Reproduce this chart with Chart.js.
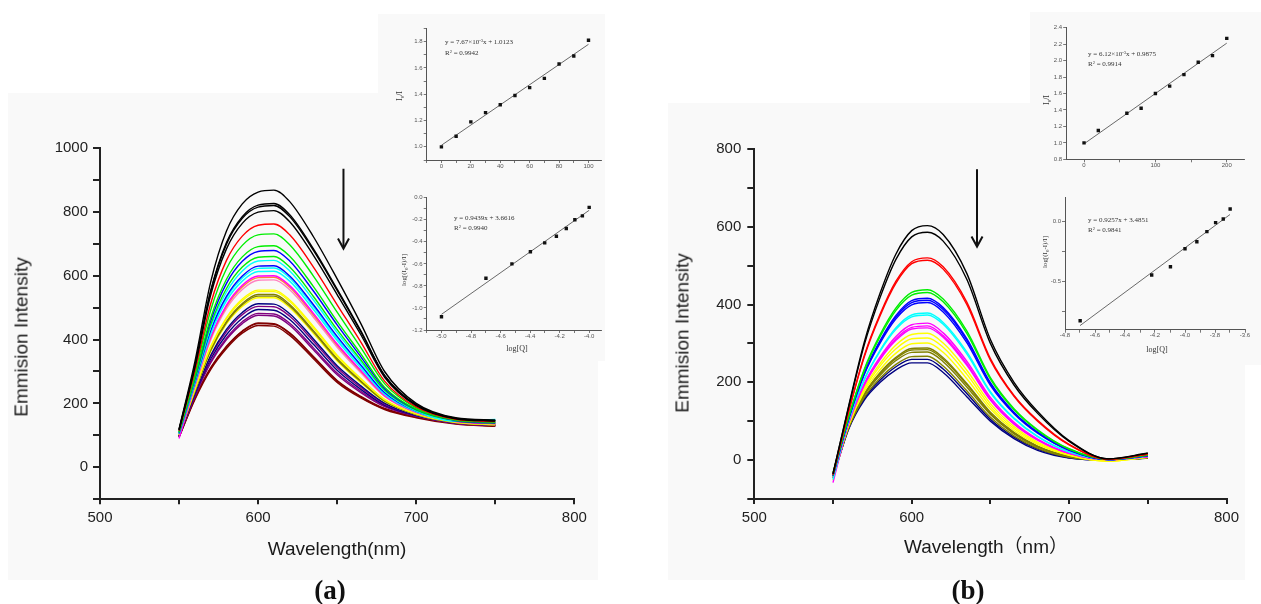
<!DOCTYPE html>
<html><head><meta charset="utf-8">
<script src="https://cdn.jsdelivr.net/npm/chart.js@4.4.0/dist/chart.umd.min.js"></script>
<style>
html,body{margin:0;padding:0;background:#fff;}
body{width:1261px;height:604px;position:relative;overflow:hidden;font-family:"Liberation Sans",Arial,sans-serif;}
.bg{position:absolute;background:#f9f9f9;}
canvas{position:absolute;}
.t{position:absolute;white-space:nowrap;color:#1a1a1a;line-height:1;}
.c{transform:translate(-50%,-50%);}
.rot{transform:translate(-50%,-50%) rotate(-90deg);}
.eq{position:absolute;white-space:nowrap;font-family:"Liberation Serif","Times New Roman",serif;font-size:7px;color:#333;line-height:1;transform:translate(0,-50%);}
.sup{font-size:4.5px;position:relative;top:-2.5px;}
.sub{font-size:5px;position:relative;top:1.5px;}
.lab{position:absolute;white-space:nowrap;font-family:"Liberation Serif","Times New Roman",serif;color:#333;line-height:1;}
</style></head><body>
<div class="bg" style="left:8px;top:93px;width:590px;height:487px"></div>
<div class="bg" style="left:378px;top:14px;width:227px;height:347px"></div>
<div class="bg" style="left:668px;top:103px;width:577px;height:477px"></div>
<div class="bg" style="left:1030px;top:12px;width:231px;height:353px"></div>

<canvas id="mainA"></canvas>
<canvas id="mainB"></canvas>
<canvas id="insA1"></canvas>
<canvas id="insA2"></canvas>
<canvas id="insB1"></canvas>
<canvas id="insB2"></canvas>

<div class="t c" style="left:337px;top:548px;font-size:19px">Wavelength(nm)</div>
<div class="t rot" style="left:21px;top:337px;font-size:19px">Emmision Intensity</div>
<div class="t c" style="left:986px;top:546px;font-size:19px;font-family:'Liberation Sans','Noto Sans CJK SC',sans-serif">Wavelength（nm）</div>
<div class="t rot" style="left:682px;top:333px;font-size:19px">Emmision Intensity</div>
<div class="t c" style="left:330px;top:590px;font:bold 27px 'Liberation Serif',serif;color:#111">(a)</div>
<div class="t c" style="left:968px;top:590px;font:bold 27px 'Liberation Serif',serif;color:#111">(b)</div>

<div class="eq" style="left:445px;top:42px">y = 7.67×10<span class="sup">-3</span>x + 1.0123</div>
<div class="eq" style="left:445px;top:53px">R<span class="sup">2</span> = 0.9942</div>
<div class="eq" style="left:454px;top:218px">y = 0.9439x + 3.6616</div>
<div class="eq" style="left:454px;top:228px">R<span class="sup">2</span> = 0.9940</div>
<div class="eq" style="left:1088px;top:54px">y = 6.12×10<span class="sup">-3</span>x + 0.9875</div>
<div class="eq" style="left:1088px;top:64px">R<span class="sup">2</span> = 0.9914</div>
<div class="eq" style="left:1088px;top:220px">y = 0.9257x + 3.4851</div>
<div class="eq" style="left:1088px;top:230px">R<span class="sup">2</span> = 0.9841</div>

<div class="lab rot" style="left:400px;top:96px;font-size:8px">I<span class="sub">0</span>/I</div>
<div class="lab rot" style="left:404px;top:270px;font-size:7px">log[(I<span class="sub">0</span>-I)/I]</div>
<div class="lab c" style="left:517px;top:349px;font-size:8px">log[Q]</div>
<div class="lab rot" style="left:1047px;top:100px;font-size:8px">I<span class="sub">0</span>/I</div>
<div class="lab rot" style="left:1045px;top:252px;font-size:7px">log[(I<span class="sub">0</span>-I)/I]</div>
<div class="lab c" style="left:1157px;top:350px;font-size:8px">log[Q]</div>

<script>
// ---------- main spectra: wavelengths (nm) ----------
const wl = [550, 560, 570, 580, 590, 600, 610, 620, 635, 650, 665, 680, 700, 725, 750];

// panel (a) emission curves
const A01 = [120, 330, 580, 740, 825, 862, 868, 832, 722, 590, 450, 300, 200, 155, 148];
const A02 = [118, 319, 553, 704, 785, 821, 826, 791, 684, 558, 427, 288, 196, 153, 146];
const A03 = [117, 317, 550, 699, 780, 815, 820, 785, 679, 554, 424, 287, 195, 153, 146];
const A04 = [116, 312, 539, 684, 764, 799, 804, 769, 664, 541, 415, 282, 193, 152, 145];
const A05 = [114, 301, 512, 648, 724, 758, 762, 728, 627, 509, 392, 270, 189, 150, 143];
const A06 = [112, 292, 492, 622, 695, 728, 731, 697, 599, 486, 375, 262, 186, 149, 142];
const A07 = [110, 282, 468, 589, 659, 691, 694, 661, 566, 457, 355, 251, 182, 148, 141];
const A08 = [109, 278, 458, 576, 645, 676, 679, 646, 552, 446, 346, 247, 181, 147, 140];
const A09 = [108, 273, 446, 560, 627, 658, 660, 627, 535, 431, 336, 242, 179, 146, 139];
const A10 = [107, 270, 438, 549, 615, 646, 648, 615, 524, 422, 329, 239, 177, 146, 150];
const A11 = [106, 265, 428, 535, 599, 630, 631, 599, 509, 410, 320, 234, 176, 145, 138];
const A12 = [106, 263, 423, 530, 593, 623, 624, 593, 503, 404, 317, 232, 175, 145, 148];
const A13 = [105, 261, 417, 521, 583, 613, 614, 583, 494, 397, 311, 229, 174, 144, 147];
const A14 = [90, 257, 408, 508, 570, 599, 600, 569, 482, 386, 303, 225, 173, 144, 137];
const A15 = [104, 255, 405, 504, 565, 594, 595, 564, 477, 382, 301, 224, 172, 143, 136];
const A16 = [103, 253, 399, 497, 557, 586, 587, 556, 470, 376, 296, 222, 171, 143, 136];
const A17 = [101, 244, 379, 469, 527, 555, 555, 524, 441, 351, 278, 213, 168, 142, 135];
const A18 = [101, 243, 375, 465, 522, 550, 550, 519, 436, 347, 276, 211, 167, 141, 134];
const A19 = [100, 240, 370, 457, 513, 541, 541, 510, 428, 341, 271, 209, 167, 141, 134];
const A20 = [100, 239, 366, 453, 509, 536, 536, 505, 424, 337, 268, 207, 166, 141, 134];
const A21 = [100, 238, 363, 449, 504, 531, 531, 500, 419, 333, 265, 206, 165, 140, 133];
const A22 = [99, 232, 351, 432, 485, 512, 511, 481, 402, 318, 255, 201, 163, 140, 133];
const A23 = [98, 230, 346, 425, 478, 504, 503, 473, 395, 312, 250, 198, 163, 139, 132];
const A24 = [98, 227, 339, 415, 467, 494, 492, 463, 385, 304, 244, 195, 162, 139, 132];
const A25 = [97, 224, 331, 405, 456, 482, 480, 451, 374, 295, 238, 192, 160, 138, 131];
const A26 = [97, 222, 327, 400, 450, 476, 474, 445, 368, 290, 234, 190, 160, 138, 131];
const A27 = [96, 217, 312, 379, 427, 452, 450, 421, 347, 272, 222, 184, 158, 138, 131];
const A28 = [95, 215, 310, 377, 425, 450, 448, 419, 345, 270, 220, 183, 157, 137, 130];
const A29 = [94, 212, 306, 372, 420, 444, 442, 413, 340, 266, 217, 181, 155, 135, 128];
const seriesA = [A01,A02,A03,A04,A05,A06,A07,A08,A09,A10,A11,A12,A13,A14,A15,A16,A17,A18,A19,A20,A21,A22,A23,A24,A25,A26,A27,A28,A29];
const colorsA = ['#000000','#000000','#000000','#000000','#ff0000','#00ee00','#00ee00','#0000ff','#00ee00','#00ffff','#0000ff','#00ffff','#00ffff','#ff00ff','#ff8040','#ff80c0','#ffff00','#ffff00','#808000','#808000','#ffff00','#000080','#800080','#000080','#800080','#800080','#800000','#800000','#800000'];

// panel (b) emission curves
const B01 = [-35, 140, 305, 430, 530, 590, 603, 580, 480, 310, 200, 125, 50, 3, 18];
const B02 = [-36, 137, 298, 419, 516, 574, 586, 563, 465, 300, 193, 120, 48, 3, 17];
const B03 = [-37, 126, 270, 376, 460, 510, 520, 497, 406, 261, 166, 102, 40, 2, 15];
const B04 = [-38, 125, 267, 372, 455, 505, 514, 491, 400, 257, 164, 100, 39, 2, 15];
const B05 = [-32, 112, 235, 323, 391, 431, 438, 414, 332, 212, 132, 78, 29, 2, 12];
const B06 = [-40, 111, 232, 318, 385, 424, 431, 407, 326, 208, 129, 76, 28, 2, 12];
const B07 = [-40, 108, 226, 308, 372, 410, 416, 392, 312, 199, 123, 72, 26, 1, 11];
const B08 = [-40, 107, 223, 305, 368, 405, 411, 387, 308, 196, 121, 71, 26, 1, 11];
const B09 = [-41, 106, 221, 301, 363, 399, 405, 381, 302, 192, 119, 69, 25, 1, 11];
const B10 = [-50, 102, 209, 283, 340, 373, 378, 354, 278, 176, 108, 61, 21, 1, 10];
const B11 = [-42, 101, 207, 280, 336, 368, 373, 349, 273, 173, 106, 60, 21, 1, 10];
const B12 = [-58, 97, 198, 266, 318, 348, 352, 327, 254, 161, 97, 54, 18, 1, 9];
const B13 = [-42, 96, 195, 262, 312, 341, 345, 320, 248, 156, 94, 52, 17, 1, 9];
const B14 = [-42, 95, 193, 259, 308, 337, 340, 316, 244, 154, 92, 51, 17, 1, 8];
const B15 = [-52, 93, 187, 249, 296, 323, 326, 301, 231, 145, 86, 46, 15, -3, 8];
const B16 = [-43, 91, 182, 242, 286, 312, 314, 290, 221, 138, 81, 43, 13, -3, 7];
const B17 = [-44, 89, 177, 233, 275, 299, 301, 277, 209, 131, 76, 40, 12, -3, 7];
const B18 = [-44, 87, 171, 225, 264, 287, 288, 263, 197, 123, 71, 36, 10, 0, 6];
const B19 = [-44, 86, 170, 222, 261, 283, 284, 259, 194, 120, 69, 35, 9, 0, 6];
const B20 = [-44, 85, 167, 218, 256, 277, 278, 253, 188, 117, 67, 33, 9, 0, 6];
const B21 = [-45, 83, 162, 211, 246, 266, 267, 242, 178, 110, 62, 30, 7, 0, 6];
const B22 = [-45, 82, 159, 206, 240, 259, 259, 234, 171, 105, 59, 28, 6, 0, 5];
const B23 = [-45, 80, 155, 200, 232, 250, 250, 225, 163, 100, 55, 25, 5, 0, 5];
const seriesB = [B01,B02,B03,B04,B05,B06,B07,B08,B09,B10,B11,B12,B13,B14,B15,B16,B17,B18,B19,B20,B21,B22,B23];
const colorsB = ['#000000','#000000','#ff0000','#ff0000','#00ee00','#00ee00','#0000ff','#0000ff','#0000ff','#00ffff','#00ffff','#ff00ff','#ff00ff','#ff00ff','#ffff00','#ffff00','#ffff00','#808000','#808000','#808000','#808000','#000080','#000080'];

// main axes ticks
const mainXTicks = [500, 550, 600, 650, 700, 750, 800];
const mainXLabels = ['500', '', '600', '', '700', '', '800'];
const mainAYTicks = [-100, 0, 100, 200, 300, 400, 500, 600, 700, 800, 900, 1000];
const mainAYLabels = ['', '0', '', '200', '', '400', '', '600', '', '800', '', '1000'];
const mainBYTicks = [-100, 0, 100, 200, 300, 400, 500, 600, 700, 800];
const mainBYLabels = ['', '0', '', '200', '', '400', '', '600', '', '800'];

// arrows (data coordinates)
const arrowA = {x: 654, y1: 935, y2: 685};
const arrowB = {x: 641.5, y1: 748, y2: 549};

// ---------- insets ----------
const a1X = [0, 10, 20, 30, 40, 50, 60, 70, 80, 90, 100];
const a1Y = [1.00, 1.08, 1.19, 1.26, 1.32, 1.39, 1.45, 1.52, 1.63, 1.69, 1.81];
const a1FitX = [0, 100];
const a1FitY = [1.012, 1.779];
const a1XTicks = [-10, 0, 10, 20, 30, 40, 50, 60, 70, 80, 90, 100];
const a1XLabels = ['', '0', '', '20', '', '40', '', '60', '', '80', '', '100'];
const a1YTicks = [0.9, 1.0, 1.1, 1.2, 1.3, 1.4, 1.5, 1.6, 1.7, 1.8, 1.9];
const a1YLabels = ['', '1.0', '', '1.2', '', '1.4', '', '1.6', '', '1.8', ''];

const a2X = [-5.0, -4.699, -4.523, -4.398, -4.301, -4.222, -4.155, -4.097, -4.046, -4.0];
const a2Y = [-1.08, -0.73, -0.60, -0.49, -0.41, -0.35, -0.28, -0.20, -0.165, -0.088];
const a2FitX = [-5.0, -4.0];
const a2FitY = [-1.058, -0.114];
const a2XTicks = [-5.1, -5.0, -4.9, -4.8, -4.7, -4.6, -4.5, -4.4, -4.3, -4.2, -4.1, -4.0];
const a2XLabels = ['', '-5.0', '', '-4.8', '', '-4.6', '', '-4.4', '', '-4.2', '', '-4.0'];
const a2YTicks = [-1.2, -1.1, -1.0, -0.9, -0.8, -0.7, -0.6, -0.5, -0.4, -0.3, -0.2, -0.1, 0.0];
const a2YLabels = ['-1.2', '', '-1.0', '', '-0.8', '', '-0.6', '', '-0.4', '', '-0.2', '', '0.0'];

const b1X = [0, 20, 60, 80, 100, 120, 140, 160, 180, 200];
const b1Y = [1.00, 1.15, 1.36, 1.42, 1.60, 1.69, 1.83, 1.98, 2.06, 2.27];
const b1FitX = [0, 200];
const b1FitY = [0.988, 2.212];
const b1XTicks = [0, 50, 100, 150, 200];
const b1XLabels = ['0', '', '100', '', '200'];
const b1YTicks = [0.8, 1.0, 1.2, 1.4, 1.6, 1.8, 2.0, 2.2, 2.4];
const b1YLabels = ['0.8', '1.0', '1.2', '1.4', '1.6', '1.8', '2.0', '2.2', '2.4'];

const b2X = [-4.699, -4.222, -4.097, -4.0, -3.921, -3.854, -3.796, -3.745, -3.699];
const b2Y = [-0.825, -0.444, -0.375, -0.225, -0.167, -0.083, -0.008, 0.022, 0.106];
const b2FitX = [-4.7, -3.7];
const b2FitY = [-0.866, 0.060];
const b2XTicks = [-4.8, -4.7, -4.6, -4.5, -4.4, -4.3, -4.2, -4.1, -4.0, -3.9, -3.8, -3.7, -3.6];
const b2XLabels = ['-4.8', '', '-4.6', '', '-4.4', '', '-4.2', '', '-4.0', '', '-3.8', '', '-3.6'];
const b2YTicks = [-0.75, -0.5, -0.25, 0.0];
const b2YLabels = ['', '-0.5', '', '0.0'];

// ---------- helpers ----------
const zip = (xs, ys) => xs.map((x, i) => ({x: x, y: ys[i]}));

function mkAxis(o) {
  return {
    type: 'linear', min: o.min, max: o.max, position: o.pos,
    afterBuildTicks: s => { s.ticks = o.ticks.map(v => ({value: v})); },
    afterFit: s => { if (o.pos === 'bottom') s.height = o.size; else s.width = o.size; },
    ticks: {
      autoSkip: false, maxRotation: 0, minRotation: 0, padding: o.pad, color: o.color,
      font: {family: "'Liberation Sans', Arial, sans-serif", size: o.fs, lineHeight: o.lh || 1.2},
      callback: (v, i) => o.labels[i]
    },
    grid: {display: true, drawOnChartArea: false, drawTicks: true, tickLength: o.tl,
           tickWidth: o.tw, tickColor: o.color, color: o.color, lineWidth: o.tw},
    border: {display: true, color: o.color, width: o.bw},
    title: {display: false}
  };
}

function build(id, box, area, xa, ya, datasets, plugins, pluginOpts) {
  const c = document.getElementById(id);
  c.width = box.w; c.height = box.h;
  c.style.left = box.l + 'px'; c.style.top = box.t + 'px';
  return new Chart(c, {
    type: 'line',
    data: {datasets: datasets},
    options: {
      responsive: false, animation: false, devicePixelRatio: 1,
      layout: {padding: {left: 0, top: area.t - box.t, right: box.l + box.w - area.r, bottom: 0}},
      plugins: Object.assign({legend: {display: false}, tooltip: {enabled: false}}, pluginOpts || {}),
      elements: {point: {radius: 0}},
      scales: {
        x: mkAxis(Object.assign({pos: 'bottom', size: box.t + box.h - area.b}, xa)),
        y: mkAxis(Object.assign({pos: 'left', size: area.l - box.l}, ya))
      }
    },
    plugins: plugins || []
  });
}

const arrowPlugin = {
  id: 'arrow',
  afterDatasetsDraw(chart, args, opts) {
    const ctx = chart.ctx, x = chart.scales.x, y = chart.scales.y;
    const px = x.getPixelForValue(opts.x), y1 = y.getPixelForValue(opts.y1), y2 = y.getPixelForValue(opts.y2);
    ctx.save();
    ctx.strokeStyle = '#111'; ctx.lineWidth = 2; ctx.lineCap = 'butt'; ctx.lineJoin = 'miter';
    ctx.beginPath(); ctx.moveTo(px, y1); ctx.lineTo(px, y2 - 1); ctx.stroke();
    ctx.beginPath(); ctx.moveTo(px - 5.5, y2 - 10); ctx.lineTo(px, y2); ctx.lineTo(px + 5.5, y2 - 10); ctx.stroke();
    ctx.restore();
  }
};

function curveSets(series, colors) {
  return series.map((s, i) => ({
    data: zip(wl, s), borderColor: colors[i], borderWidth: 1.4,
    pointRadius: 0, cubicInterpolationMode: 'monotone', fill: false
  }));
}

const mainX = {min: 500, max: 800, ticks: mainXTicks, labels: mainXLabels, fs: 15, pad: 5, tl: 5, tw: 2, bw: 2, color: '#222'};

// panel (a)
build('mainA', {l: 8, t: 93, w: 590, h: 487}, {l: 100, t: 148, r: 574.3, b: 499.2},
  mainX,
  {min: -100, max: 1000, ticks: mainAYTicks, labels: mainAYLabels, fs: 15, pad: 5, tl: 7, tw: 2, bw: 2, color: '#222'},
  curveSets(seriesA, colorsA), [arrowPlugin], {arrow: arrowA});

// panel (b)
build('mainB', {l: 668, t: 103, w: 577, h: 477}, {l: 754.3, t: 149, r: 1226.5, b: 498.9},
  mainX,
  {min: -100, max: 800, ticks: mainBYTicks, labels: mainBYLabels, fs: 15, pad: 6, tl: 7, tw: 2, bw: 2, color: '#222'},
  curveSets(seriesB, colorsB), [arrowPlugin], {arrow: arrowB});

function insetSets(px, py, fx, fy) {
  return [
    {data: zip(px, py), showLine: false, pointStyle: 'rect', pointRadius: 2.4,
     backgroundColor: '#111', borderColor: '#111', borderWidth: 0},
    {data: zip(fx, fy), showLine: true, pointRadius: 0, borderColor: '#444', borderWidth: 0.8}
  ];
}
const insAx = {fs: 6, pad: 1, tl: 3, tw: 0.8, bw: 1, color: '#555'};
const insAxX = Object.assign({}, insAx, {pad: 0, lh: 1});

build('insA1', {l: 378, t: 14, w: 227, h: 170}, {l: 426.7, t: 28.4, r: 603.3, b: 160},
  Object.assign({min: -10, max: 108.5, ticks: a1XTicks, labels: a1XLabels}, insAxX),
  Object.assign({min: 0.9, max: 1.9, ticks: a1YTicks, labels: a1YLabels}, insAx),
  insetSets(a1X, a1Y, a1FitX, a1FitY));

build('insA2', {l: 378, t: 186, w: 227, h: 174}, {l: 426.7, t: 197.7, r: 602.7, b: 330},
  Object.assign({min: -5.1, max: -3.92, ticks: a2XTicks, labels: a2XLabels}, insAxX),
  Object.assign({min: -1.2, max: 0.0, ticks: a2YTicks, labels: a2YLabels}, insAx),
  insetSets(a2X, a2Y, a2FitX, a2FitY));

build('insB1', {l: 1030, t: 12, w: 231, h: 172}, {l: 1066.2, t: 27.7, r: 1244.6, b: 159.3},
  Object.assign({min: -25, max: 225, ticks: b1XTicks, labels: b1XLabels}, insAxX),
  Object.assign({min: 0.8, max: 2.4, ticks: b1YTicks, labels: b1YLabels}, insAx),
  insetSets(b1X, b1Y, b1FitX, b1FitY));

build('insB2', {l: 1030, t: 186, w: 231, h: 174}, {l: 1065, t: 197.7, r: 1245, b: 329.7},
  Object.assign({min: -4.8, max: -3.6, ticks: b2XTicks, labels: b2XLabels}, insAxX),
  Object.assign({min: -0.9, max: 0.2, ticks: b2YTicks, labels: b2YLabels}, insAx),
  insetSets(b2X, b2Y, b2FitX, b2FitY));
</script>
</body></html>
